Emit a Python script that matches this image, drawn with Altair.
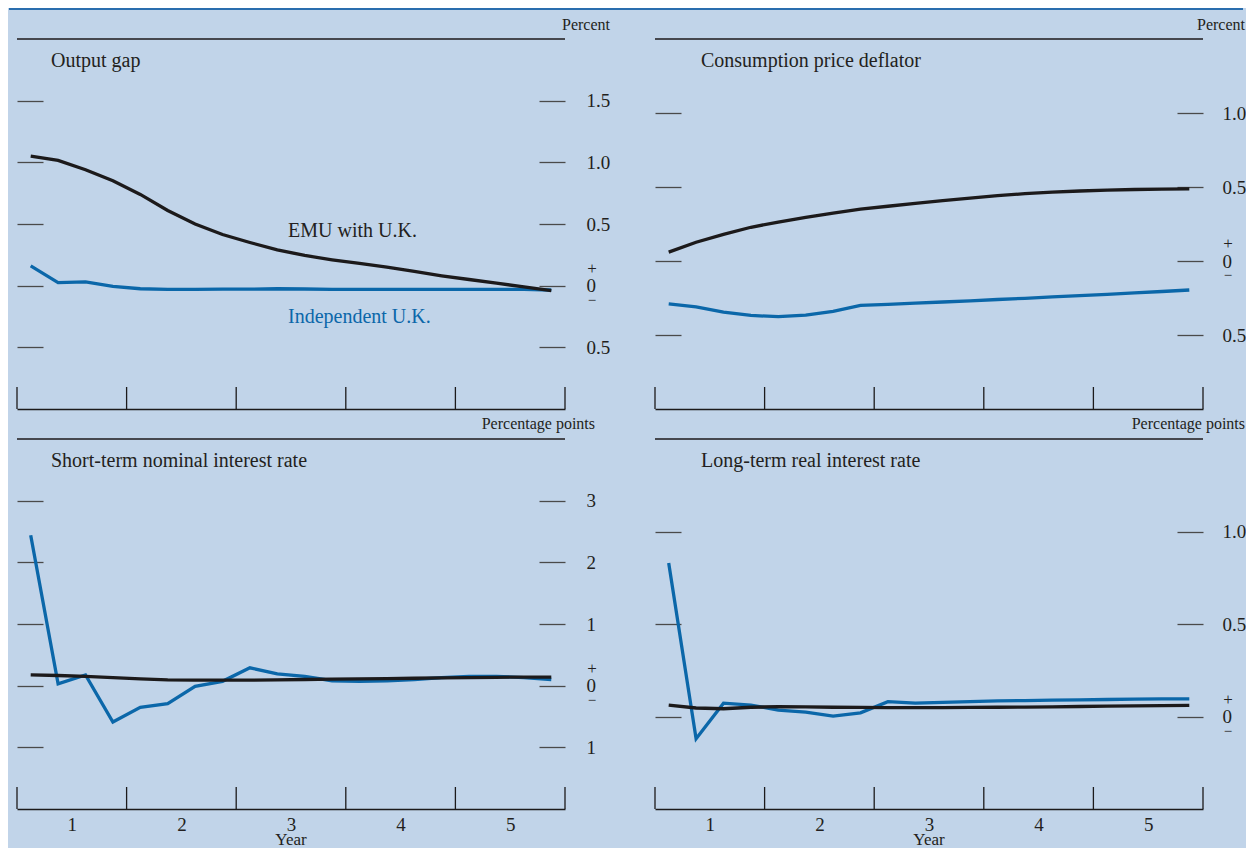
import altair as alt
import pandas as pd

# ---------------- data ----------------
quarters = [i + 0.5 for i in range(20)]

gap_emu = [1.05, 1.015, 0.94, 0.85, 0.74, 0.61, 0.50, 0.415, 0.35, 0.29,
           0.245, 0.21, 0.18, 0.15, 0.115, 0.08, 0.05, 0.02, -0.01, -0.04]
gap_ind = [0.16, 0.025, 0.03, -0.005, -0.025, -0.03, -0.03, -0.028, -0.028, -0.025,
           -0.027, -0.03, -0.03, -0.03, -0.03, -0.03, -0.03, -0.03, -0.03, -0.035]

cpd_emu = [0.06, 0.127, 0.18, 0.228, 0.263, 0.295, 0.323, 0.35, 0.37, 0.39,
           0.408, 0.425, 0.442, 0.455, 0.465, 0.473, 0.479, 0.483, 0.485, 0.487]
cpd_ind = [-0.29, -0.31, -0.345, -0.368, -0.376, -0.366, -0.34, -0.30, -0.293, -0.285,
           -0.277, -0.269, -0.26, -0.252, -0.243, -0.234, -0.225, -0.215, -0.206, -0.196]

short_emu = [0.175, 0.165, 0.15, 0.13, 0.11, 0.095, 0.09, 0.09, 0.09, 0.095,
             0.10, 0.105, 0.11, 0.115, 0.12, 0.125, 0.13, 0.135, 0.14, 0.14]
short_ind = [2.44, 0.03, 0.175, -0.59, -0.35, -0.29, -0.01, 0.07, 0.29, 0.19,
             0.15, 0.08, 0.07, 0.08, 0.10, 0.13, 0.15, 0.15, 0.13, 0.10]

long_emu = [0.062, 0.046, 0.042, 0.05, 0.053, 0.052, 0.05, 0.049, 0.048, 0.048,
            0.048, 0.049, 0.05, 0.051, 0.052, 0.054, 0.056, 0.057, 0.059, 0.06]
long_ind = [0.83, -0.12, 0.072, 0.062, 0.035, 0.024, 0.002, 0.02, 0.08, 0.072,
            0.076, 0.08, 0.084, 0.086, 0.088, 0.09, 0.092, 0.094, 0.095, 0.095]

year_centers = [2, 6, 10, 14, 18]
year_bounds = [0, 4, 8, 12, 16, 20]
x_title = "Year"

titles = ["Output gap", "Consumption price deflator",
          "Short-term nominal interest rate", "Long-term real interest rate"]
units = ["Percent", "Percent", "Percentage points", "Percentage points"]
series_names = ["EMU with U.K.", "Independent U.K."]

ticks_gap = [1.5, 1.0, 0.5, 0.0, -0.5]
ticks_cpd = [1.0, 0.5, 0.0, -0.5]
ticks_short = [3, 2, 1, 0, -1]
ticks_long = [1.0, 0.5, 0.0]

# ---------------- style ----------------
W, H = 548, 370
ROW_GAP = 30
COL_GAP = 90
BG = "#c1d4e9"
BLUE = "#0b67a9"
BLACK = "#1c1a1b"
TEXT = "#231f20"
TICK = "#4a4a4a"
TOPBLUE = "#2a6eae"
FONT = "Liberation Serif"

one = pd.DataFrame({"a": [0]})


def panel(title, unit, emu, ind, domain, ticks, fmt, bottom, title_x, unit_x,
          unit_y, lab_pad, labels=False, top_rule=None):
    df = pd.DataFrame({"q": quarters, "emu": emu, "ind": ind})
    xaxis = alt.Axis(values=year_centers,
                     labelExpr="'' + ((datum.value + 2) / 4)",
                     ticks=False, domain=True, domainColor=BLACK, domainWidth=1.4,
                     labels=bottom, grid=False, title=None,
                     labelFont=FONT, labelFontSize=19, labelColor=TEXT,
                     labelPadding=6)
    xsc = alt.Scale(domain=[0, 20], nice=False, zero=False)
    x = alt.X("q:Q", scale=xsc, axis=xaxis)
    ysc = alt.Scale(domain=domain, nice=False, zero=False)
    right_axis = alt.Axis(orient="right", values=ticks, offset=-26, tickSize=26,
                          tickColor=TICK, tickWidth=1.3, domain=False, grid=False,
                          labelExpr="datum.value == 0 ? '0' : format(abs(datum.value), '%s')" % fmt,
                          labelFont=FONT, labelFontSize=19, labelColor=TEXT,
                          labelPadding=lab_pad, labelAlign="left", labelOverlap=False,
                          labelFlush=False, title=None)
    left_axis = alt.Axis(orient="left", values=ticks, offset=-26, tickSize=26,
                         tickColor=TICK, tickWidth=1.3, domain=False, grid=False,
                         labels=False, title=None)

    blue = alt.Chart(df).mark_line(color=BLUE, strokeWidth=3.3).encode(
        x=x, y=alt.Y("ind:Q", scale=ysc, axis=right_axis))
    black = alt.Chart(df).mark_line(color=BLACK, strokeWidth=3.3).encode(
        x=x, y=alt.Y("emu:Q", scale=ysc, axis=left_axis))
    yticks = alt.Chart(pd.DataFrame({"q": year_bounds})).mark_rule(
        color=BLACK, strokeWidth=1.3).encode(
        x=x, y=alt.value(H - 22), y2=alt.value(H))
    topline = alt.Chart(one).mark_rule(color=BLACK, strokeWidth=1.6).encode(
        x=alt.value(0), x2=alt.value(W), y=alt.value(0))
    ttl = alt.Chart(pd.DataFrame({"t": [title]})).mark_text(
        font=FONT, fontSize=20, color=TEXT, align="left", baseline="middle").encode(
        text="t:N", x=alt.value(title_x), y=alt.value(22))
    un = alt.Chart(pd.DataFrame({"t": [unit]})).mark_text(
        font=FONT, fontSize=16, color=TEXT, align="right", baseline="middle").encode(
        text="t:N", x=alt.value(unit_x), y=alt.value(unit_y))
    zero = pd.DataFrame({"v": [0.0]})
    plus = alt.Chart(zero).mark_text(text="+", font=FONT, fontSize=17, color=TEXT,
                                     align="center", baseline="middle", dy=-17).encode(
        x=alt.value(W + lab_pad + 6), y=alt.Y("v:Q", scale=ysc, axis=None))
    minus = alt.Chart(zero).mark_text(text="\u2212", font=FONT, fontSize=15, color=TEXT,
                                      align="center", baseline="middle", dy=14).encode(
        x=alt.value(W + lab_pad + 6), y=alt.Y("v:Q", scale=ysc, axis=None))

    layers = [blue, black, yticks, topline, ttl, un, plus, minus]
    if bottom:
        yr = alt.Chart(pd.DataFrame({"t": [x_title]})).mark_text(
            font=FONT, fontSize=17, color=TEXT, align="center",
            baseline="alphabetic").encode(
            text="t:N", x=alt.value(W / 2), y=alt.value(H + 36))
        layers.append(yr)
    if labels:
        lab1 = alt.Chart(pd.DataFrame({"t": [series_names[0]]})).mark_text(
            font=FONT, fontSize=20, color=TEXT, align="left", baseline="middle").encode(
            text="t:N", x=alt.value(271), y=alt.value(192))
        lab2 = alt.Chart(pd.DataFrame({"t": [series_names[1]]})).mark_text(
            font=FONT, fontSize=20, color=BLUE, align="left", baseline="middle").encode(
            text="t:N", x=alt.value(271), y=alt.value(278))
        layers += [lab1, lab2]
    if top_rule is not None:
        tr = alt.Chart(one).mark_rule(color=TOPBLUE, strokeWidth=2, strokeCap="butt",
                                      strokeJoin="bevel").encode(
            x=alt.value(top_rule[0]), x2=alt.value(top_rule[1]), y=alt.value(-30))
        layers.append(tr)
    return alt.layer(*layers).resolve_scale(y="independent").properties(width=W, height=H)


tl = panel(titles[0], units[0], gap_emu, gap_ind, [-1, 2], ticks_gap, ".1f", False,
           34, 593, -14, 21, labels=True, top_rule=(-8, W + COL_GAP))
tr = panel(titles[1], units[1], cpd_emu, cpd_ind, [-1, 1.5], ticks_cpd, ".1f", False,
           46, 590, -14, 19, top_rule=(0, 588))
bl = panel(titles[2], units[2], short_emu, short_ind, [-2, 4], ticks_short, "d", True,
           34, 578, -15, 21)
br = panel(titles[3], units[3], long_emu, long_ind, [-0.5, 1.5], ticks_long, ".1f", True,
           46, 590, -15, 19)

chart = alt.concat(tl, tr, bl, br, columns=2,
                   spacing={"row": ROW_GAP, "column": COL_GAP},
                   bounds="flush", padding=0, background=BG
                   ).configure_view(strokeWidth=0)

chart.save("out.html", embed_options={"renderer": "svg", "actions": False})
